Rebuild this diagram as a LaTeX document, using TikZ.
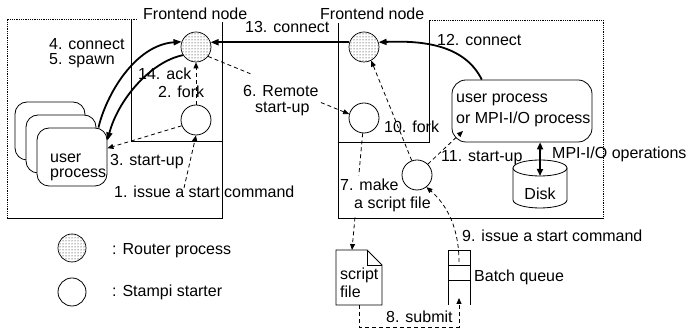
\documentclass[tikz,border=0pt]{standalone}
\usepackage{fontspec}
\setmainfont{Liberation Sans}
\usetikzlibrary{arrows.meta,patterns,calc}
\begin{document}
\begin{tikzpicture}[x=1pt,y=-1pt,
  every node/.style={font=\fontsize{16}{18}\selectfont, inner sep=0pt},
  lbl/.style={anchor=base west},
  frame/.style={line width=0.8pt},
  outer/.style={line width=0.8pt, densely dotted},
  router/.style={circle, draw, line width=0.7pt, minimum size=30pt, pattern=dots, pattern color=black},
  starter/.style={circle, draw, line width=0.8pt, minimum size=30pt, fill=white},
  procbox/.style={draw, rounded corners=12pt, line width=0.8pt, fill=white},
  thickarr/.style={line width=1.8pt, -{Triangle[length=8pt,width=6pt]}},
  dsh/.style={line width=0.8pt, dash pattern=on 4pt off 3pt},
  dsharr/.style={dsh, -{Triangle[length=6pt,width=5pt]}},
]
\useasboundingbox (0,0) rectangle (689,328);

% left site
\draw[outer] (137,19) -- (7,19) -- (7,218);
\draw[frame] (7,218) -- (222,218) -- (222,22);
\draw[frame] (131,19) -- (131,141) -- (222,141);
% right site
\draw[outer] (430,20) -- (603,20) -- (603,218);
\draw[frame] (603,218) -- (338,218) -- (338,23);
\draw[frame] (429,20) -- (429,142) -- (338,142);

\node[lbl] (fe1) at (143,20) {Frontend node};
\node[lbl] (fe2) at (320,20) {Frontend node};

% processes
\node[router] (lr) at (196,47) {};
\node[router] (rr) at (364,47) {};
\node[starter] (ls) at (196,120) {};
\node[starter] (rs) at (364,118) {};
\node[starter] (bs) at (417,175) {};

\node[procbox, minimum width=70pt, minimum height=58pt] (up3) at (50,131) {};
\node[procbox, minimum width=70pt, minimum height=58pt] (up2) at (61,144) {};
\node[procbox, minimum width=70pt, minimum height=58pt] (up) at (72,157) {};
\node[lbl] (tu1) at (50,163) {user};
\node[lbl] (tu2) at (50,178) {process};

\node[procbox, rounded corners=14pt, minimum width=140pt, minimum height=62pt] (mp) at (522,111) {};
\node[lbl] (tm1) at (456,103) {user process};
\node[lbl] (tm2) at (456,124) {or MPI-I/O process};

% disk
\draw[frame, fill=white] (513,168) -- (513,200) arc[start angle=180, end angle=0, x radius=27, y radius=8] -- (567,168);
\draw[frame, fill=white] (540,168) ellipse[x radius=27, y radius=8];
\node[anchor=base] (dk) at (540,200) {Disk};
\coordinate (dtop) at (540,176);
\draw[line width=1.8pt, {Triangle[length=7pt,width=6pt]}-{Triangle[length=7pt,width=6pt]}] (mp.-60) -- (dtop);
\node[lbl] (tmpi) at (552,159) {MPI-I/O operations};

% script file
\draw[frame, fill=white] (336,250) -- (367,250) -- (382,265) -- (382,305) -- (336,305) -- cycle;
\draw[frame] (367,250) -- (367,265) -- (382,265);
\node[lbl] (ts1) at (340,280) {script};
\node[lbl] (ts2) at (340,298) {file};
\coordinate (sft) at (352,250);
\coordinate (sfb) at (359,305);

% batch queue
\draw[frame] (448,305) -- (448,250) -- (470,250) -- (470,305);
\draw[frame] (448,265) -- (470,265);
\draw[frame] (448,280) -- (470,280);
\coordinate (bqt) at (459,262);
\coordinate (bqb) at (459,298);
\node[lbl] (tbq) at (474,282) {Batch queue};

% 8 submit
\coordinate (c8) at (400,327);
\draw[dsharr] (sfb) -- (sfb |- c8) -- (bqb |- c8) -- (bqb);
\node[lbl] (t8) at (386,323) {8. submit};

% 9
\draw[dsharr] (bqt) .. controls (459,228) and (447,205) .. (bs.-52);
\node[lbl] (t9) at (462,242) {9. issue a start command};

% 7
\draw[dsh] (rs.265) -- ($(rs.265)!0.36!(sft)$);
\draw[dsharr] ($(rs.265)!0.72!(sft)$) -- (sft);
\node[lbl] (t7a) at (340,191) {7. make};
\node[lbl] (t7b) at (354,209) {a script file};

% 10
\draw[dsharr] (bs.110) -- (rr.-62);
\node[lbl] (t10) at (384,133) {10. fork};

% 11
\coordinate (c11) at (463,131);
\draw[dsharr] (bs.45) -- (c11);
\node[lbl] (t11) at (441,162) {11. start-up};

% 12
\draw[thickarr] (mp.142) .. controls (466,48) and (430,40) .. (rr.18);
\node[lbl] (t12) at (437,46) {12. connect};

% 13
\draw[thickarr] (rr.162) -- (lr.18);
\node[lbl] (t13) at (245,33) {13. connect};

% 6
\draw[dsh] (lr.-38) -- ($(lr.-38)!0.3!(rs.165)$);
\draw[dsharr] ($(lr.-38)!0.8!(rs.165)$) -- (rs.165);
\node[lbl] (t6a) at (243,97) {6. Remote};
\node[lbl] (t6b) at (255,113) {start-up};

% 4 and 14
\draw[thickarr] (up.48) .. controls (106,95) and (135,45) .. (lr.160);
\draw[thickarr] (lr.212) .. controls (150,62) and (118,100) .. (up.25);
\node[lbl] (t4) at (49,50) {4. connect};
\node[lbl] (t5) at (49,65) {5. spawn};
\node[lbl] (t14) at (138,80) {14. ack};
\node[lbl] (t2) at (158,98) {2. fork};

% 2, 3, 1
\draw[dsharr] (ls.north) -- (lr.south);
\draw[dsharr] (ls.202) -- (up.14);
\node[lbl] (t3) at (110,166) {3. start-up};
\coordinate (c1) at (184,188);
\draw[dsharr] (c1) -- (ls.south);
\node[lbl] (t1) at (114,198) {1. issue a start command};

% legend
\node[router, minimum size=28pt] (lg1) at (72,248) {};
\node[lbl] (tl1) at (112,255) {: Router process};
\node[starter, minimum size=28pt] (lg2) at (72,292) {};
\node[lbl] (tl2) at (112,297) {: Stampi starter};
\end{tikzpicture}
\end{document}
